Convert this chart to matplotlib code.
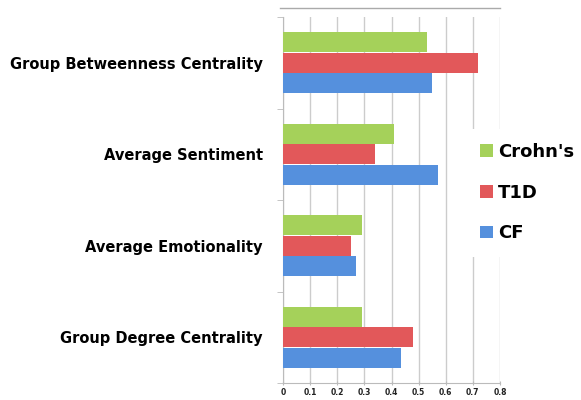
import matplotlib

matplotlib.use("Agg")
import matplotlib.pyplot as plt
import numpy as np
from matplotlib.lines import Line2D

# categories, top to bottom as shown in the chart
categories = ["Group Betweenness Centrality", "Average Sentiment",
              "Average Emotionality", "Group Degree Centrality"]
series = ["Crohn's", "T1D", "CF"]
crohns = [0.53, 0.41, 0.29, 0.29]
t1d = [0.72, 0.34, 0.25, 0.48]
cf = [0.55, 0.57, 0.27, 0.435]
xticks = [0, 0.1, 0.2, 0.3, 0.4, 0.5, 0.6, 0.7, 0.8]
colors = ["#a5d15a", "#e2585a", "#5590dd"]

fig = plt.figure(figsize=(5.81, 4.0), dpi=100)
ax = fig.add_axes([283 / 581, 17 / 400, 217 / 581, 366 / 400])

y = np.arange(len(categories))[::-1].astype(float)
h = 0.22
for i, (vals, c, lab) in enumerate(zip([crohns, t1d, cf], colors, series)):
    ax.barh(y + (1 - i) * h * 1.02, vals, h, color=c, edgecolor="none", label=lab, zorder=3)

ax.set_xlim(0, 0.8)
ax.set_ylim(-0.5, len(categories) - 0.5)
ax.set_xticks(xticks)
ax.set_xticklabels([f"{v:g}" for v in xticks], fontsize=5.5, fontweight="bold", color="#222222")
ax.set_yticks(y)
ax.set_yticklabels(categories, fontsize=10.5, fontweight="bold")
ax.tick_params(axis="y", length=0, pad=14.5)
ax.set_yticks(np.arange(-0.5, len(categories), 1.0), minor=True)
ax.tick_params(axis="y", which="minor", length=4, color="#bbbbbb")
ax.tick_params(axis="x", length=3, direction="inout", color="#bbbbbb", pad=2)
ax.grid(axis="x", color="#cccccc", linewidth=1, zorder=0)
for s in ["top", "right"]:
    ax.spines[s].set_visible(False)
for s in ["left", "bottom"]:
    ax.spines[s].set_color("#bbbbbb")

fig.add_artist(Line2D([280 / 581, 500 / 581], [1 - 8 / 400, 1 - 8 / 400],
                      color="#aaaaaa", linewidth=1))

leg = ax.legend(loc="center left", bbox_to_anchor=(0.8, 0.52), frameon=True,
                prop={"size": 13, "weight": "bold"}, handlelength=0.7, handleheight=0.7,
                handletextpad=0.3, labelspacing=1.25, borderpad=0.8)
leg.get_frame().set_facecolor("white")
leg.get_frame().set_edgecolor("none")
leg.get_frame().set_alpha(1)
leg.set_zorder(5)

fig.savefig("out.png", dpi=100)
